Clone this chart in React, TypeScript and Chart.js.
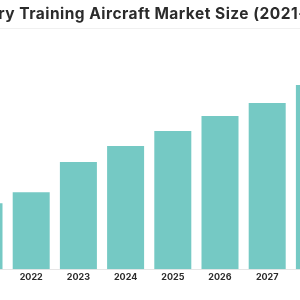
import { useEffect, useRef } from "react";
import { Chart, registerables } from "chart.js";

Chart.register(...registerables);

const title = "Military Training Aircraft Market Size (2021-2030)";
const years = ["2021", "2022", "2023", "2024", "2025", "2026", "2027", "2028"];
const marketSize = [6.6, 7.7, 10.7, 12.3, 13.8, 15.3, 16.6, 18.4];

const BAR_COLOR = "#75c9c4";
const TEXT_COLOR = "#2b2b2b";

export default function App() {
  const canvasRef = useRef<HTMLCanvasElement | null>(null);

  useEffect(() => {
    const canvas = canvasRef.current;
    if (!canvas) return;
    const chart = new Chart(canvas, {
      type: "bar",
      data: {
        labels: years,
        datasets: [
          {
            data: marketSize,
            backgroundColor: BAR_COLOR,
            borderWidth: 0,
            categoryPercentage: 1,
            barPercentage: 0.784,
          },
        ],
      },
      options: {
        responsive: false,
        animation: false,
        layout: { padding: { top: 40, left: 20.4, right: 18, bottom: 14 } },
        plugins: {
          legend: { display: false },
          title: { display: false },
          tooltip: { enabled: false },
        },
        scales: {
          x: {
            grid: { display: false, drawTicks: false },
            border: { display: true, color: "#e6e6e6", width: 1 },
            ticks: {
              color: TEXT_COLOR,
              padding: 3,
              font: { family: "Inter, 'Open Sans', sans-serif", size: 9, weight: "bold" },
            },
          },
          y: {
            display: false,
            min: 0,
            max: 22.9,
          },
        },
      },
    });
    return () => chart.destroy();
  }, []);

  return (
    <div style={{ position: "fixed", left: -60, top: 0, width: 416, height: 300, background: "#fff" }}>
      <canvas ref={canvasRef} width={416} height={300} style={{ display: "block" }} />
      <div
        style={{
          position: "absolute",
          left: 6,
          top: 4,
          width: 416,
          textAlign: "center",
          fontFamily: "Inter, 'Open Sans', sans-serif",
          fontWeight: 700,
          fontSize: 15.5,
          letterSpacing: 0.48,
          lineHeight: "20px",
          color: TEXT_COLOR,
          whiteSpace: "nowrap",
        }}
      >
        {title}
      </div>
      <div
        style={{
          position: "absolute",
          left: 0,
          top: 28,
          width: 416,
          height: 1,
          background: "#f0f0f0",
        }}
      />
    </div>
  );
}
